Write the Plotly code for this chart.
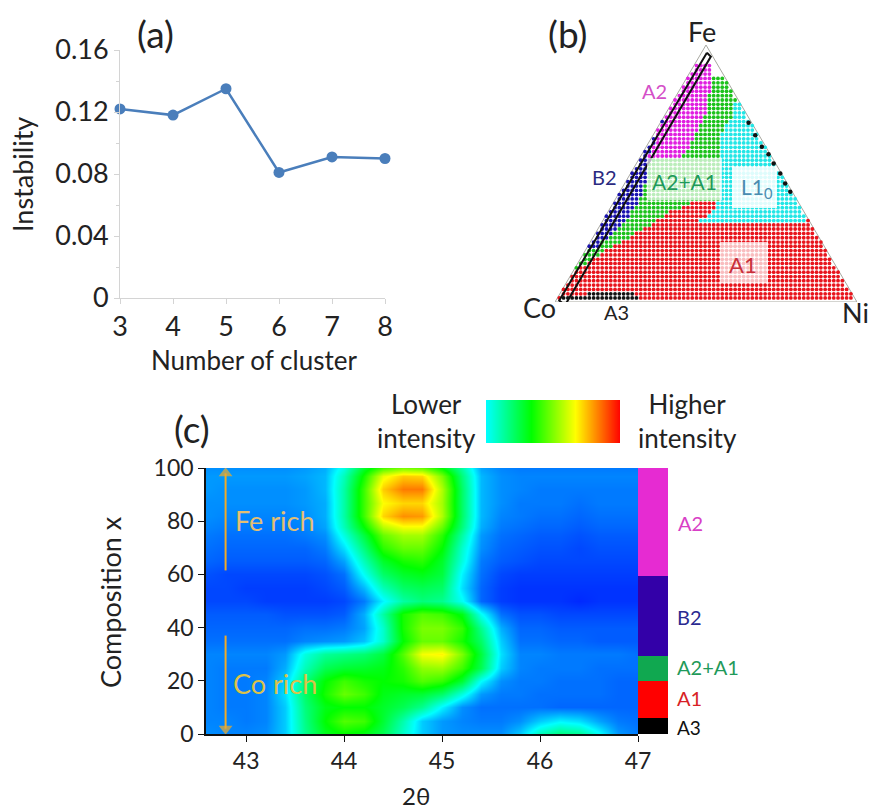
import plotly.graph_objects as go

W, H = 869, 809
FONT = "Lato"
TXT = "#222222"

# ---------- (a) instability ----------
clusters = [3, 4, 5, 6, 7, 8]
instability = [0.122, 0.118, 0.135, 0.081, 0.091, 0.090]

# ---------- (b) phase map: one entry per dot row: Fe level, then (phase, end position along base) ----------
phase_colors = {"R": "#e8141c", "K": "#111111", "G": "#1cc21c", "B": "#1a12b0", "C": "#22e6e6", "M": "#e01ee0"}
phase_rows = [
    (1.6, [("R", 2.5), ("K", 27.6), ("R", 100)]),
    (3.2, [("R", 11), ("K", 26), ("R", 100)]),
    (4.9, [("R", 100)]),
    (6.6, [("R", 100)]),
    (8.3, [("R", 100)]),
    (9.9, [("R", 100)]),
    (11.6, [("R", 100)]),
    (13.3, [("G", 8.3), ("R", 100)]),
    (15.0, [("G", 10.5), ("R", 100)]),
    (16.6, [("G", 12.7), ("R", 100)]),
    (18.3, [("G", 14.9), ("R", 100)]),
    (20.0, [("B", 10.7), ("G", 16.6), ("R", 100)]),
    (21.7, [("B", 14.4), ("G", 18.8), ("R", 100)]),
    (23.3, [("B", 15.5), ("G", 21.5), ("R", 100)]),
    (25.0, [("B", 17.1), ("G", 24.3), ("R", 100)]),
    (26.7, [("B", 19.3), ("G", 26.5), ("R", 100)]),
    (28.4, [("B", 20.4), ("G", 29.3), ("R", 100)]),
    (30.0, [("B", 22.1), ("G", 31.5), ("R", 100)]),
    (31.7, [("B", 23.2), ("G", 33.7), ("R", 48.1), ("C", 82.9), ("R", 100)]),
    (33.4, [("B", 24.3), ("G", 35.9), ("R", 50.3), ("C", 100)]),
    (35.1, [("B", 25.4), ("G", 38.1), ("R", 51.4), ("C", 100)]),
    (36.7, [("B", 26.0), ("G", 42.5), ("R", 53.6), ("C", 100)]),
    (38.4, [("B", 27.6), ("G", 44.8), ("R", 53.6), ("C", 100)]),
    (40.1, [("B", 28.2), ("G", 55.2), ("C", 100)]),
    (41.8, [("B", 29.3), ("G", 55.2), ("C", 100)]),
    (43.4, [("B", 29.3), ("G", 55.2), ("C", 100)]),
    (45.1, [("B", 29.8), ("G", 55.2), ("C", 100)]),
    (46.8, [("B", 30.4), ("G", 55.2), ("C", 100)]),
    (48.5, [("B", 30.4), ("G", 55.2), ("C", 100)]),
    (50.1, [("B", 30.4), ("G", 55.2), ("C", 100)]),
    (51.8, [("B", 31.0), ("G", 55.2), ("C", 100)]),
    (53.5, [("B", 31.0), ("G", 55.2), ("C", 100)]),
    (55.2, [("B", 31.5), ("G", 55.2), ("C", 100)]),
    (56.8, [("B", 30.4), ("M", 42.5), ("G", 55.2), ("C", 100)]),
    (58.5, [("B", 31.5), ("M", 43.6), ("G", 55.2), ("C", 100)]),
    (60.2, [("B", 32.0), ("M", 44.2), ("G", 55.2), ("C", 100)]),
    (61.9, [("B", 32.8), ("M", 45.3), ("G", 55.2), ("C", 100)]),
    (63.5, [("B", 33.1), ("M", 45.9), ("G", 55.2), ("C", 100)]),
    (65.2, [("B", 33.7), ("M", 46.4), ("G", 55.2), ("C", 100)]),
    (66.9, [("B", 33.9), ("M", 47.0), ("G", 55.8), ("C", 100)]),
    (68.6, [("B", 35.0), ("M", 47.5), ("G", 56.4), ("C", 100)]),
    (70.2, [("B", 35.9), ("M", 48.6), ("G", 56.9), ("C", 100)]),
    (71.9, [("B", 36.7), ("M", 49.2), ("G", 58.6), ("C", 100)]),
    (73.6, [("B", 37.6), ("M", 49.7), ("G", 59.1), ("C", 100)]),
    (75.3, [("M", 50.3), ("G", 59.1), ("C", 100)]),
    (76.9, [("M", 50.3), ("G", 59.1), ("C", 100)]),
    (78.6, [("B", 39.6), ("M", 50.8), ("G", 100)]),
    (80.3, [("M", 50.8), ("G", 100)]),
    (82.0, [("M", 51.9), ("G", 100)]),
    (83.6, [("M", 52.5), ("G", 100)]),
    (85.3, [("M", 52.5), ("G", 100)]),
    (87.0, [("M", 52.5), ("G", 100)]),
    (88.7, [("B", 44.8), ("M", 52.5)]),
    (90.3, [("B", 45.6), ("M", 52.5)]),
    (92.0, [("B", 46.4), ("M", 52.5)]),
]
edge_dot_base = [64.1, 66.3, 68.5, 70.7, 72.4, 74.6, 76.2, 77.9]
edge_dot_fe = [69.7, 64.9, 60.4, 57.5, 53.9, 50.0, 46.1, 42.9]
triangle_base = [0, 50, 100, 0]
triangle_fe = [0, 100, 0, 0]
scan_box_base = [50.3, 51.6, 3.3, 1.4, 50.3]
scan_box_fe = [97.0, 95.5, -1.3, 0.6, 97.0]

# ---------- (c) intensity map ----------
two_theta = [42.6, 42.8, 43.0, 43.2, 43.4, 43.6, 43.8, 44.0, 44.2, 44.4, 44.6, 44.8,
             45.0, 45.2, 45.4, 45.6, 45.8, 46.0, 46.2, 46.4, 46.6, 46.8, 47.0]
composition = [0, 5, 10, 15, 20, 25, 30, 35, 40, 45, 50, 55, 60, 65, 70, 75, 78, 82, 87, 92, 97, 100]
intensity = [
    [.14,.13,.13,.14,.20,.36,.47,.50,.48,.42,.30,.20,.15,.14,.14,.14,.20,.32,.38,.36,.26,.15,.12],
    [.13,.13,.12,.13,.20,.37,.50,.58,.56,.45,.33,.20,.15,.13,.12,.12,.14,.20,.24,.22,.16,.12,.11],
    [.13,.12,.12,.13,.20,.38,.48,.50,.50,.46,.42,.36,.24,.14,.11,.11,.11,.11,.10,.10,.10,.10,.10],
    [.13,.12,.12,.13,.22,.40,.52,.60,.56,.48,.46,.45,.40,.28,.15,.12,.12,.11,.11,.11,.11,.10,.10],
    [.13,.12,.12,.13,.20,.38,.50,.56,.52,.50,.52,.58,.55,.45,.25,.14,.12,.12,.11,.11,.11,.10,.10],
    [.13,.12,.12,.12,.17,.32,.42,.45,.46,.48,.54,.64,.65,.56,.42,.20,.13,.12,.12,.12,.11,.11,.11],
    [.13,.13,.13,.13,.15,.28,.35,.37,.39,.44,.58,.74,.76,.62,.44,.22,.13,.13,.12,.12,.12,.12,.11],
    [.11,.11,.11,.11,.11,.13,.14,.15,.19,.30,.50,.60,.60,.52,.40,.20,.11,.11,.10,.10,.09,.09,.09],
    [.10,.10,.10,.10,.10,.11,.11,.12,.16,.30,.52,.62,.62,.55,.36,.17,.10,.10,.09,.09,.09,.09,.09],
    [.09,.09,.09,.09,.08,.08,.08,.09,.17,.34,.52,.58,.56,.48,.26,.11,.08,.08,.07,.07,.07,.07,.07],
    [.07,.07,.07,.06,.06,.06,.06,.07,.12,.24,.34,.38,.36,.26,.10,.06,.05,.05,.05,.04,.05,.05,.05],
    [.07,.07,.06,.06,.06,.06,.07,.09,.18,.32,.40,.42,.40,.22,.10,.06,.05,.05,.05,.05,.05,.05,.05],
    [.08,.07,.07,.07,.07,.07,.08,.11,.26,.40,.46,.48,.44,.24,.11,.07,.06,.06,.06,.06,.06,.06,.06],
    [.10,.09,.09,.09,.09,.09,.10,.16,.32,.46,.52,.54,.46,.28,.12,.09,.08,.07,.07,.07,.07,.07,.07],
    [.11,.10,.10,.10,.10,.10,.12,.22,.38,.54,.60,.60,.50,.30,.14,.10,.09,.08,.08,.07,.08,.08,.08],
    [.12,.11,.11,.11,.11,.12,.14,.28,.44,.60,.66,.66,.54,.34,.15,.11,.10,.09,.09,.08,.09,.09,.09],
    [.13,.12,.12,.12,.12,.13,.16,.32,.50,.68,.74,.74,.60,.38,.17,.12,.11,.10,.10,.09,.10,.10,.10],
    [.14,.13,.13,.13,.13,.14,.17,.34,.56,.79,.86,.85,.67,.40,.18,.13,.12,.11,.11,.10,.11,.11,.11],
    [.14,.14,.14,.14,.14,.15,.17,.34,.56,.75,.79,.79,.66,.40,.18,.14,.12,.12,.12,.11,.12,.12,.12],
    [.15,.14,.14,.14,.14,.15,.18,.34,.56,.80,.88,.88,.67,.40,.18,.14,.13,.12,.12,.12,.12,.12,.12],
    [.15,.15,.15,.15,.15,.16,.18,.32,.52,.73,.80,.79,.62,.38,.18,.14,.13,.13,.13,.13,.13,.13,.13],
    [.14,.14,.14,.14,.14,.15,.17,.28,.46,.57,.62,.60,.50,.34,.16,.13,.12,.12,.12,.12,.12,.12,.12],
]
arrow_theta = [42.79, 42.79]
fe_arrow_comp = [61.5, 98]
co_arrow_comp = [37, 2]
legend_levels = [0.25, 0.5, 0.75, 1.0]
colorscale = [[0, "#0000ff"], [0.25, "#00ffff"], [0.5, "#00ff00"], [0.75, "#ffff00"], [1, "#ff0000"]]

band_names = ["A3", "A1", "A2+A1", "B2", "A2"]
band_heights = [6, 14, 9.5, 30, 40.5]
band_colors = ["#000000", "#ff0000", "#10a850", "#3300a8", "#e62bd2"]


def fx(px):
    return px / W


def fy(py):
    return 1 - py / H


fig = go.Figure()

# (a)
fig.add_trace(go.Scatter(x=clusters, y=instability, mode="lines+markers", xaxis="x", yaxis="y",
                         line=dict(color="#4a7ebb", width=2.5), marker=dict(color="#4a7ebb", size=11),
                         cliponaxis=False, showlegend=False))

# (b)
fig.add_trace(go.Scatter(x=triangle_base, y=triangle_fe, mode="lines", xaxis="x2", yaxis="y2",
                         line=dict(color="#a8a8a0", width=1), cliponaxis=False, showlegend=False))
COL_STEP = 1.42
dots = {k: ([], []) for k in phase_colors}
for fe, runs in phase_rows:
    col = 0
    left, right = fe / 2 + 0.3, 100 - fe / 2 - 0.3
    while col * COL_STEP <= right:
        u = col * COL_STEP
        col += 1
        if u < left:
            continue
        for ph, end in runs:
            if u <= end:
                dots[ph][0].append(u)
                dots[ph][1].append(fe)
                break
for ph, (xs, ys) in dots.items():
    fig.add_trace(go.Scatter(x=xs, y=ys, mode="markers", xaxis="x2", yaxis="y2",
                             marker=dict(color=phase_colors[ph], size=3.8, line=dict(width=0)),
                             cliponaxis=False, showlegend=False))
fig.add_trace(go.Scatter(x=edge_dot_base, y=edge_dot_fe, mode="markers", xaxis="x2", yaxis="y2",
                         marker=dict(color="#111111", size=4.5), cliponaxis=False, showlegend=False))
fig.add_trace(go.Scatter(x=scan_box_base, y=scan_box_fe, mode="lines", xaxis="x2", yaxis="y2",
                         line=dict(color="#111111", width=2), cliponaxis=False, showlegend=False))

# (c)
fig.add_trace(go.Heatmap(x=two_theta, y=composition, z=intensity, xaxis="x3", yaxis="y3",
                         colorscale=colorscale, zmin=0, zmax=1, zsmooth="best", showscale=False))
fig.add_trace(go.Heatmap(x=legend_levels, y=[0, 1], z=[legend_levels, legend_levels], xaxis="x4", yaxis="y4",
                         colorscale=colorscale, zmin=0, zmax=1, zsmooth="best", showscale=False))
for name, h, c in zip(band_names, band_heights, band_colors):
    fig.add_trace(go.Bar(x=["band"], y=[h], name=name, xaxis="x5", yaxis="y5",
                         marker=dict(color=c, line=dict(width=0)), showlegend=False))
# orange arrows
for comp, sym in [(fe_arrow_comp, "triangle-up"), (co_arrow_comp, "triangle-down")]:
    fig.add_trace(go.Scatter(x=arrow_theta, y=comp, mode="lines+markers", xaxis="x3", yaxis="y3",
                             line=dict(color="#f0ab28", width=2),
                             marker=dict(color="#f0ab28", size=[0, 12], symbol=sym, line=dict(width=0)),
                             showlegend=False))

hidden = dict(visible=False, showgrid=False, zeroline=False, automargin=False)
tick_a = dict(tickfont=dict(family=FONT, size=27, color=TXT), showgrid=False, zeroline=False, automargin=False,
              showline=True, linecolor="#d4d4d4", linewidth=1, ticks="outside", tickcolor="#d4d4d4", ticklen=5)
tick_c = dict(tickfont=dict(family=FONT, size=23, color=TXT), showgrid=False, zeroline=False, automargin=False,
              showline=True, linecolor="#111111", linewidth=1.5, ticks="outside", tickcolor="#111111", ticklen=6)

fig.update_layout(
    width=W, height=H, margin=dict(l=0, r=0, t=0, b=0), autosize=False,
    paper_bgcolor="white", plot_bgcolor="rgba(0,0,0,0)", barmode="stack", bargap=0,
    xaxis=dict(domain=[fx(120), fx(385)], range=[3, 8], tickvals=clusters, anchor="y", **tick_a),
    yaxis=dict(domain=[fy(298), fy(50)], range=[0, 0.16], tickvals=[0, 0.04, 0.08, 0.12, 0.16],
               ticktext=["0", "0.04", "0.08", "0.12", "0.16"], anchor="x",
               minor=dict(tickvals=[0.02, 0.06, 0.10, 0.14], ticks="outside", ticklen=3, tickcolor="#d4d4d4"),
               **tick_a),
    xaxis2=dict(domain=[fx(555), fx(857)], range=[0, 100], anchor="y2", **hidden),
    yaxis2=dict(domain=[fy(302), fy(45)], range=[0, 100], anchor="x2", **hidden),
    xaxis3=dict(domain=[fx(206), fx(638)], range=[42.59, 47], tickvals=[43, 44, 45, 46, 47], anchor="y3", **tick_c),
    yaxis3=dict(domain=[fy(734), fy(468)], range=[0, 100], tickvals=[0, 20, 40, 60, 80, 100], anchor="x3", **tick_c),
    xaxis4=dict(domain=[fx(486), fx(620)], range=[0.25, 1], anchor="y4", **hidden),
    yaxis4=dict(domain=[fy(443), fy(400)], range=[0, 1], anchor="x4", **hidden),
    xaxis5=dict(domain=[fx(638), fx(668)], anchor="y5", **hidden),
    yaxis5=dict(domain=[fy(734), fy(468)], range=[0, 100], anchor="x5", **hidden),
)

# soft white label backings in panel (b)
for x0, x1, y0, y1, a in [(647, 722, 158, 200, 0.7), (732, 777, 167, 208, 0.85), (720, 768, 242, 283, 0.72)]:
    fig.add_shape(type="rect", xref="paper", yref="paper", x0=fx(x0), x1=fx(x1), y0=fy(y0), y1=fy(y1),
                  fillcolor=f"rgba(255,255,255,{a})", line=dict(width=0), layer="above")


def label(text, px, py, size, color=TXT, angle=0, align="center"):
    fig.add_annotation(text=text, x=fx(px), y=fy(py), xref="paper", yref="paper", showarrow=False,
                       font=dict(family=FONT, size=size, color=color), textangle=angle, align=align,
                       xanchor="center", yanchor="middle")


label("(a)", 155, 33, 37)
label("(b)", 567, 33, 37)
label("(c)", 192, 428, 37)
label("Instability", 23, 175, 27, angle=-90)
label("Number of cluster", 254, 360, 26)
label("Composition x", 110, 602, 27, angle=-90)
label("2θ", 416, 795, 24)
label("Lower<br>intensity", 426, 421, 26)
label("Higher<br>intensity", 687, 421, 26)
label("Fe", 702, 32, 27)
label("Co", 539, 307, 27)
label("Ni", 855, 312, 27)
label("A3", 616, 312, 20)
label("A2", 654, 91, 20, "#d44fc8")
label("B2", 604, 177, 20, "#2b2a80")
label("A2+A1", 684, 182, 21, "#1f9a5a")
label("L1<sub>0</sub>", 757, 188, 21, "#4a8cb0")
label("A1", 743, 264, 22, "#c8303a")
label("Fe rich", 275, 520, 27, "#e3bf73")
label("Co rich", 275, 683, 27, "#dcc24a")
label("A2", 690, 523, 20, "#d83fc6")
label("B2", 689, 617, 20, "#2b2a90")
label("A2+A1", 708, 667, 20, "#1f9a5a")
label("A1", 689, 698, 20, "#d81f26")
label("A3", 689, 727, 19, "#111111")

fig.write_html("out.html", post_script="document.body.style.margin='0';",
               config={"displayModeBar": False})
